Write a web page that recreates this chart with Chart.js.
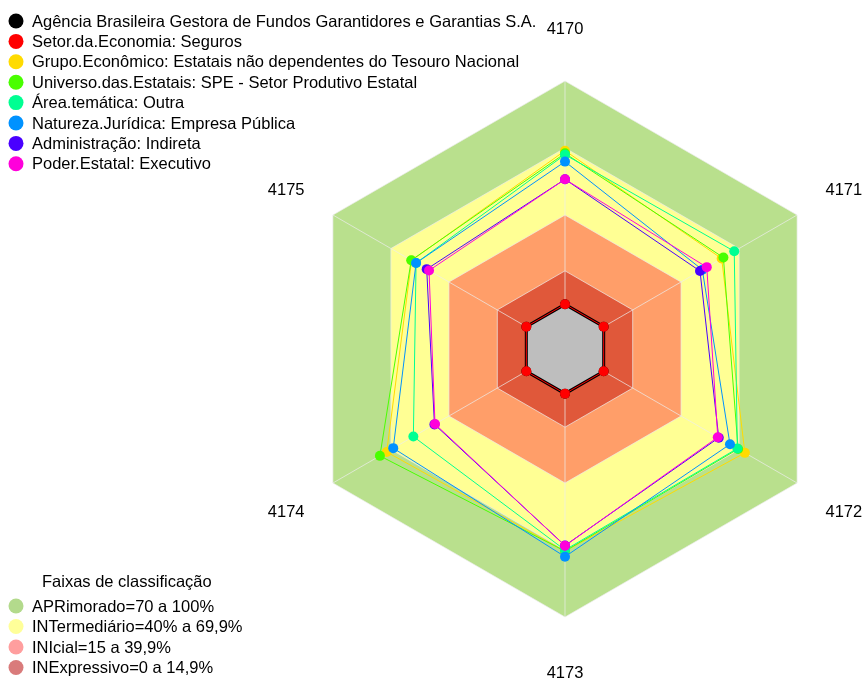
<!DOCTYPE html>
<html>
<head>
<meta charset="utf-8">
<script src="https://cdn.jsdelivr.net/npm/chart.js@4.4.0/dist/chart.umd.min.js"></script>
<style>
html, body { margin: 0; padding: 0; background: #fff; }
#wrap { position: relative; width: 865px; height: 679px; }
#wrap canvas { position: absolute; left: 0; top: 0; }
</style>
</head>
<body>
<div id="wrap">
    <canvas id="bands" width="865" height="679"></canvas>
    <canvas id="series" width="865" height="679"></canvas>
</div>
<script>
var axes = ['4170', '4171', '4172', '4173', '4174', '4175']

var seriesNames = [
    'Agência Brasileira Gestora de Fundos Garantidores e Garantias S.A.',
    'Setor.da.Economia: Seguros',
    'Grupo.Econômico: Estatais não dependentes do Tesouro Nacional',
    'Universo.das.Estatais: SPE - Setor Produtivo Estatal',
    'Área.temática: Outra',
    'Natureza.Jurídica: Empresa Pública',
    'Administração: Indireta',
    'Poder.Estatal: Executivo'
]
var seriesColors = ['#000000', '#FF0000', '#FFDB00', '#49FF00', '#00FF92', '#0092FF', '#4900FF', '#FF00DB']

var agencia = [0, 0, 0, 0, 0, 0]
var setor = [0, 0, 0, 0, 0, 0]
var grupo = [68.8, 61, 73, 70.5, 72.2, 59.3]
var universo = [67.6, 61.9, 69.5, 70.5, 75.7, 59.5]
var areaTematica = [67, 67.5, 69.1, 70, 58.4, 57]
var natureza = [63.9, 51, 65.3, 73, 68.8, 57]
var administracao = [56, 49.8, 59.5, 68, 47.5, 51.5]
var poder = [56, 53.3, 59, 68.1, 47.2, 50.3]
var seriesValues = [agencia, setor, grupo, universo, areaTematica, natureza, administracao, poder]

var legendTitle = 'Faixas de classificação'
var bandNames = ['APRimorado=70 a 100%', 'INTermediário=40% a 69,9%', 'INIcial=15 a 39,9%', 'INExpressivo=0 a 14,9%']
var bandTops = [100, 70, 40, 15]
var bandColors = ['#B9E08D', '#FFFF94', '#FF9E69', '#E0583A']
var bandLegendColors = ['#B3DA8C', '#FFFF99', '#FF9E9E', '#D97B7B']

var scaleMin = -20
var scaleMax = 100
var font = '16.5px "Liberation Sans", Arial, sans-serif'
var gridColor = 'rgba(236,236,236,0.7)'

var layout = { padding: { left: 297, right: 32, top: 81, bottom: 62 } }

function dot(ctx, x, y, color) {
    ctx.beginPath()
    ctx.arc(x, y, 7.5, 0, Math.PI * 2)
    ctx.fillStyle = color
    ctx.fill()
}

var legends = {
    id: 'legends',
    afterDraw(chart) {
        var ctx = chart.ctx
        var r = chart.scales.r
        ctx.save()
        ctx.font = font
        ctx.textBaseline = 'middle'
        ctx.textAlign = 'center'
        ctx.fillStyle = '#000'
        axes.forEach(function(name, i) {
            var p = r.getPointPosition(i, r.drawingArea + 54)
            ctx.fillText(name, p.x, p.y + 2)
        })
        ctx.textAlign = 'left'
        seriesNames.forEach(function(name, i) {
            var y = 22 + i * 20.4
            dot(ctx, 16, y - 1, seriesColors[i])
            ctx.fillStyle = '#000'
            ctx.fillText(name, 32, y)
        })
        ctx.fillStyle = '#000'
        ctx.fillText(legendTitle, 42, 582)
        bandNames.forEach(function(name, i) {
            var y = 607 + i * 20.5
            dot(ctx, 16, y - 1, bandLegendColors[i])
            ctx.fillStyle = '#000'
            ctx.fillText(name, 32, y)
        })
        ctx.restore()
    }
}

var common = {
    responsive: false,
    animation: false,
    layout: layout,
    plugins: { legend: { display: false }, tooltip: { enabled: false } }
}

new Chart(document.getElementById('bands'), {
    type: 'radar',
    data: {
        labels: axes,
        datasets: bandTops.map(function(top, i) {
            return {
                label: bandNames[i],
                data: axes.map(function() { return top }),
                order: bandTops.length - i,
                fill: 'start',
                backgroundColor: bandColors[i],
                borderWidth: 0,
                borderColor: 'rgba(0,0,0,0)',
                pointRadius: 0
            }
        })
    },
    options: Object.assign({}, common, {
        scales: {
            r: {
                min: scaleMin,
                max: scaleMax,
                afterBuildTicks: function(scale) {
                    scale.ticks = bandTops.map(function(v) { return { value: v } })
                },
                ticks: { display: false },
                grid: { color: gridColor, lineWidth: 1, z: 1 },
                angleLines: { color: gridColor, lineWidth: 1 },
                pointLabels: { display: false }
            }
        }
    })
})

new Chart(document.getElementById('series'), {
    type: 'radar',
    data: {
        labels: axes,
        datasets: seriesNames.map(function(name, i) {
            return {
                label: name,
                data: seriesValues[i],
                order: seriesNames.length - i,
                fill: i === 0 ? 'start' : false,
                backgroundColor: i === 0 ? '#BEBEBE' : seriesColors[i],
                borderColor: seriesColors[i],
                borderWidth: i === 0 ? 3 : 1,
                pointRadius: 5,
                pointBorderWidth: 0,
                pointBackgroundColor: seriesColors[i]
            }
        })
    },
    options: Object.assign({}, common, {
        scales: {
            r: {
                min: scaleMin,
                max: scaleMax,
                ticks: { display: false },
                grid: { display: false },
                angleLines: { display: false },
                pointLabels: { display: false }
            }
        }
    }),
    plugins: [legends]
})
</script>
</body>
</html>
